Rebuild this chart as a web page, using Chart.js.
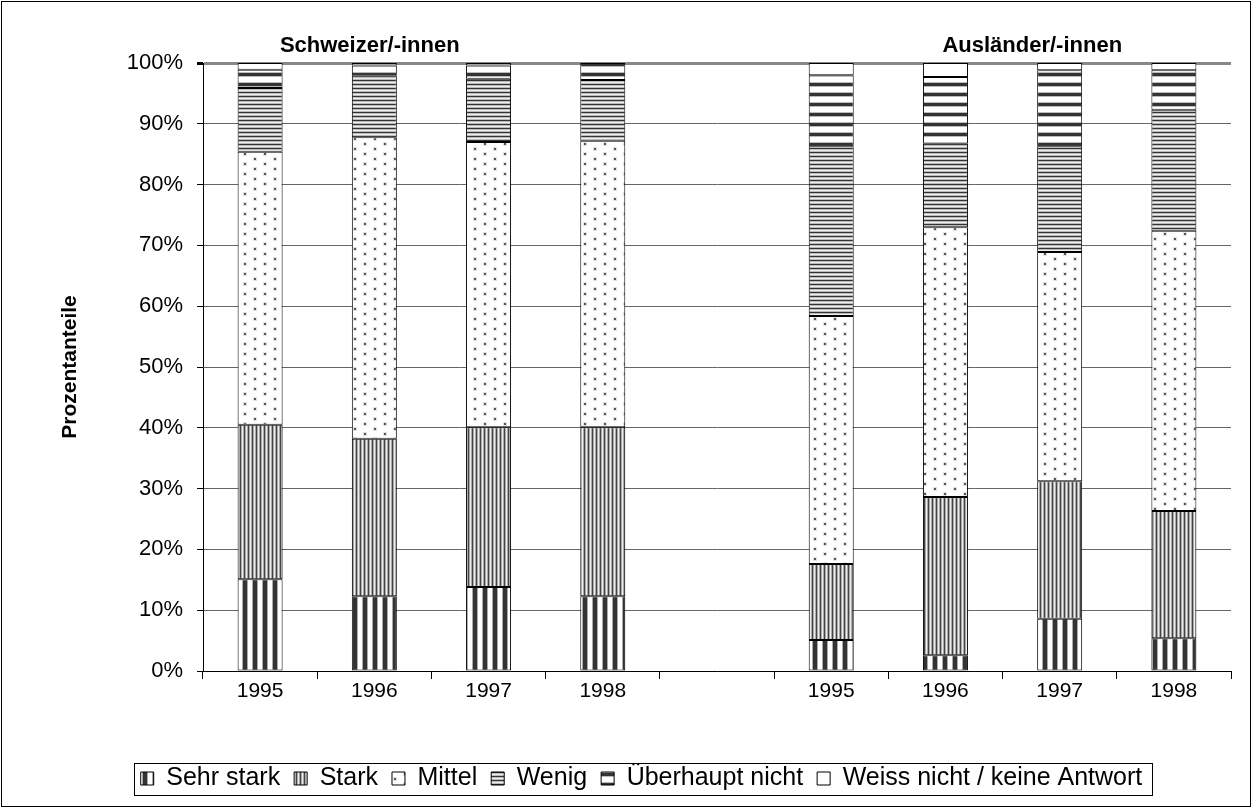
<!DOCTYPE html>
<html>
<head>
<meta charset="utf-8">
<script src="https://cdn.jsdelivr.net/npm/chart.js@4/dist/chart.umd.min.js"></script>
<style>
  html, body { margin: 0; padding: 0; background: #fff; }
  #wrap { width: 1253px; height: 809px; position: relative; }
</style>
</head>
<body>
<div id="wrap"><canvas id="grafico" width="1253" height="809"></canvas></div>
<script>
// Daten (Prozentanteile), Leerspalte trennt die beiden Gruppen
const jahre = ["1995", "1996", "1997", "1998", "", "1995", "1996", "1997", "1998"];
const sehrStark = [15.1, 12.3, 13.8, 12.3, null, 5.1, 2.6, 8.6, 5.4];
const stark = [25.4, 25.9, 26.3, 27.8, null, 12.5, 26.0, 22.6, 20.9];
const mittel = [44.9, 49.6, 46.9, 47.1, null, 40.8, 44.4, 37.7, 46.1];
const wenig = [10.5, 10.2, 10.4, 10.0, null, 27.9, 13.7, 17.4, 19.9];
const ueberhauptNicht = [3.0, 1.6, 2.2, 2.8, null, 11.7, 11.0, 12.5, 6.5];
const weissNicht = [1.1, 0.4, 0.4, 0, null, 2.0, 2.3, 1.2, 1.2];
const gruppen = ["Schweizer/-innen", "Ausländer/-innen"];
const yTicks = [0, 10, 20, 30, 40, 50, 60, 70, 80, 90, 100];

const schrift = "'Liberation Sans', Arial, sans-serif";

// Muster fuer die Balken
function streifen(farben, vertikal) {
  const c = document.createElement("canvas");
  const n = farben.length;
  c.width = vertikal ? n : 1;
  c.height = vertikal ? 1 : n;
  const g = c.getContext("2d");
  farben.forEach((f, i) => {
    g.fillStyle = f;
    if (vertikal) g.fillRect(i, 0, 1, 1);
    else g.fillRect(0, i, 1, 1);
  });
  return g.createPattern(c, "repeat");
}

function punkte() {
  const c = document.createElement("canvas");
  c.width = 20;
  c.height = 10;
  const g = c.getContext("2d");
  g.fillStyle = "#fff";
  g.fillRect(0, 0, 20, 10);
  g.fillStyle = "#e2e2e2";
  g.fillRect(3, 2, 4, 4);
  g.fillRect(13, 7, 4, 4);
  g.fillRect(13, -3, 4, 4);
  g.fillStyle = "#555";
  g.fillRect(4, 3, 2, 2);
  g.fillRect(14, 8, 2, 2);
  g.fillRect(14, -2, 2, 2);
  return g.createPattern(c, "repeat");
}

const musterSehrStark = streifen(["#fff", "#fff", "#aaa", "#333", "#333", "#333", "#333", "#aaa", "#fff", "#fff"], true);
const musterStark = streifen(["#444", "#aaa", "#eee", "#aaa"], true);
const musterMittel = punkte();
const musterWenig = streifen(["#333", "#bbb", "#eee", "#bbb"], false);
const musterUeberhaupt = streifen(["#fff", "#fff", "#bbb", "#333", "#333", "#333", "#bbb", "#fff", "#fff", "#fff"], false);

function ds(label, data, bg) {
  return {
    label: label,
    data: data,
    backgroundColor: bg,
    borderColor: "#000",
    borderWidth: 1,
    borderSkipped: false,
    categoryPercentage: 1,
    barPercentage: 0.394,
  };
}

// Gruppentitel, Legendenrahmen und Aussenrahmen
const extras = {
  id: "extras",
  afterDraw(chart) {
    const ctx = chart.ctx;
    const x = chart.scales.x;
    ctx.save();
    ctx.fillStyle = "#000";
    ctx.font = "bold 22px " + schrift;
    ctx.textAlign = "center";
    ctx.textBaseline = "middle";
    ctx.fillText(gruppen[0], x.getPixelForValue(0.96), 46);
    ctx.fillText(gruppen[1], x.getPixelForValue(6.76), 46);

    const boxes = chart.legend.legendHitBoxes;
    if (boxes && boxes.length) {
      const l = Math.min(...boxes.map((b) => b.left)) - 7;
      const r = Math.max(...boxes.map((b) => b.left + b.width)) + 9;
      const t = Math.min(...boxes.map((b) => b.top));
      const h = boxes[0].height;
      ctx.strokeStyle = "#000";
      ctx.lineWidth = 1;
      ctx.strokeRect(Math.round(l) + 0.5, Math.round(t + h / 2 - 16) + 0.5, Math.round(r - l), 32);
    }
    ctx.strokeStyle = "#000";
    ctx.lineWidth = 1;
    ctx.strokeRect(1.5, 1.5, 1249, 805);
    ctx.restore();
  },
};

new Chart(document.getElementById("grafico"), {
  type: "bar",
  data: {
    labels: jahre,
    datasets: [
      ds("Sehr stark", sehrStark, musterSehrStark),
      ds("Stark", stark, musterStark),
      ds("Mittel", mittel, musterMittel),
      ds("Wenig", wenig, musterWenig),
      ds("Überhaupt nicht", ueberhauptNicht, musterUeberhaupt),
      ds("Weiss nicht / keine Antwort", weissNicht, "#fff"),
    ],
  },
  options: {
    responsive: false,
    animation: false,
    layout: { padding: { left: 52, right: 22, top: 63, bottom: 8 } },
    scales: {
      x: {
        stacked: true,
        afterFit(scale) { scale.height = 81; },
        grid: { display: true, drawOnChartArea: false, offset: true, tickLength: 8, color: "#000" },
        border: { color: "#000", width: 1 },
        ticks: { color: "#000", font: { family: schrift, size: 21 }, padding: 0, maxRotation: 0 },
      },
      y: {
        stacked: true,
        min: 0,
        max: 100,
        afterFit(scale) { scale.width = 151; },
        afterBuildTicks(scale) { scale.ticks = yTicks.map((v) => ({ value: v })); },
        grid: {
          color: (c) => (c.tick && c.tick.value === 100 ? "#888" : "#666"),
          lineWidth: (c) => (c.tick && c.tick.value === 100 ? 3 : 1),
          tickLength: 6,
          tickColor: "#000",
        },
        border: { color: "#000", width: 1 },
        ticks: {
          color: "#000",
          font: { family: schrift, size: 22 },
          padding: 14,
          callback: (v) => v + "%",
        },
        title: {
          display: true,
          text: "Prozentanteile",
          color: "#000",
          font: { family: schrift, size: 21, weight: "bold" },
          padding: { top: 6, bottom: 0 },
        },
      },
    },
    plugins: {
      legend: {
        position: "bottom",
        labels: {
          color: "#000",
          font: { family: schrift, size: 25 },
          boxWidth: 13,
          boxHeight: 13,
          padding: 14,
        },
      },
      tooltip: { enabled: false },
    },
  },
  plugins: [extras],
});
</script>
</body>
</html>
